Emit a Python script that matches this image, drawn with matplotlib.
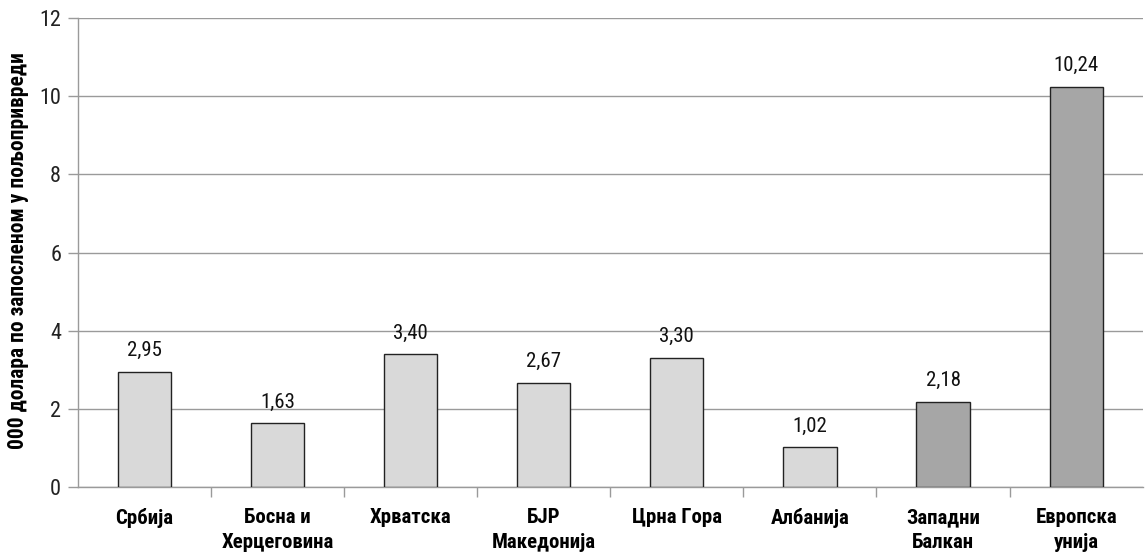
import matplotlib
matplotlib.use("Agg")
import matplotlib.pyplot as plt

categories = ["Србија", "Босна и\nХерцеговина", "Хрватска", "БЈР\nМакедонија",
              "Црна Гора", "Албанија", "Западни\nБалкан", "Европска\nунија"]
values = [2.95, 1.63, 3.40, 2.67, 3.30, 1.02, 2.18, 10.24]
value_labels = ["2,95", "1,63", "3,40", "2,67", "3,30", "1,02", "2,18", "10,24"]
colors = ["#d9d9d9"] * 6 + ["#a6a6a6"] * 2
y_ticks = [0, 2, 4, 6, 8, 10, 12]
y_label = "000 долара по запосленом у пољопривреди"

plt.rcParams['font.family'] = ["Roboto Condensed", "Liberation Sans", "DejaVu Sans"]

fig = plt.figure(figsize=(11.45, 5.53), dpi=100)
ax = fig.add_axes([0.068, 0.1193, 0.930, 0.848])

x = list(range(len(categories)))
ax.bar(x, values, width=0.4, color=colors, edgecolor="#222222", linewidth=1.0, zorder=3)
for xi, v, lab in zip(x, values, value_labels):
    ax.text(xi, v + 0.3, lab, ha="center", va="bottom", fontsize=15, color="#111111")

ax.set_xlim(-0.5, len(categories) - 0.5)
ax.set_ylim(0, 12)
ax.set_yticks(y_ticks)
ax.set_yticklabels([str(t) for t in y_ticks], fontsize=16, color="#222222")
ax.yaxis.grid(True, color="#9a9a9a", linewidth=1.0, zorder=0)
ax.set_axisbelow(True)

ax.set_xticks(x)
ax.set_xticklabels(categories, fontsize=15, fontweight="bold", linespacing=1.4)
ax.tick_params(axis="x", length=0, pad=15)
ax.set_xticks([i + 0.5 for i in x[:-1]], minor=True)
ax.tick_params(axis="x", which="minor", length=7, color="#9a9a9a", width=1)
ax.tick_params(axis="y", length=7, color="#9a9a9a", width=1, pad=5)

for s in ["top", "right"]:
    ax.spines[s].set_visible(False)
for s in ["left", "bottom"]:
    ax.spines[s].set_color("#9a9a9a")
    ax.spines[s].set_linewidth(1.0)

ax.set_ylabel(y_label, fontsize=15.5, fontweight="bold")
ax.yaxis.set_label_coords(-0.046, 0.505)

fig.savefig("out.png", dpi=100)
